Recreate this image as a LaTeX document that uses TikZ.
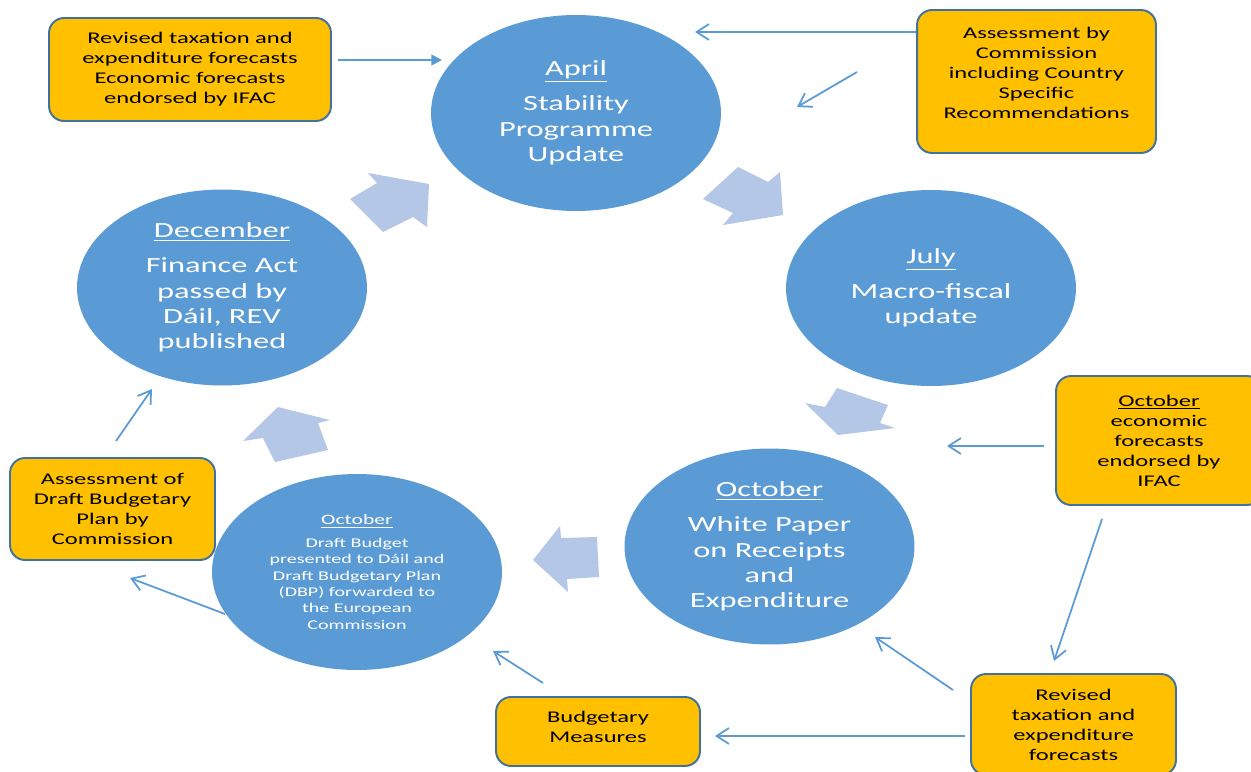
\documentclass[tikz,border=0pt]{standalone}
\usepackage{fontspec}
\setmainfont{Carlito}[FakeStretch=1.5]
\usepackage{tikz}
\usetikzlibrary{arrows.meta,shapes.geometric}
\definecolor{stageblue}{HTML}{5B9BD5}
\definecolor{flowblue}{HTML}{B4C7E7}
\definecolor{notegold}{HTML}{FFC000}
\definecolor{noteedge}{HTML}{41719C}

\begin{document}
\begin{tikzpicture}[x=0.02cm,y=-0.02cm,>={Straight Barb[length=7pt,width=9pt]},
  stage/.style={ellipse,fill=stageblue,text=white,minimum width=5.8cm,minimum height=3.92cm,inner sep=0pt,align=center,font=\fontsize{12.3}{14.5}\selectfont},
  note/.style={draw=noteedge,line width=1.1pt,fill=notegold,rounded corners=0.3cm,align=center,inner sep=0pt,font=\fontsize{9.3}{11.4}\selectfont},
  link/.style={->,stageblue,line width=1pt},
  turn/.style={fill=flowblue}]
\useasboundingbox (0,0) rectangle (1251,771);
\fill[white] (0,0) rectangle (1251,771);
\clip (0,0) rectangle (1251,771);

\node[stage] (april) at (576,113) {\underline{April}\\[5.4pt]Stability\\Programme\\Update};
\node[stage] (july) at (931,288) {\underline{July}\\[5.4pt]Macro-fiscal\\update};
\node[stage] (whitepaper) at (769.5,546.5) {\underline{October}\\[5.4pt]White Paper\\on Receipts\\and\\Expenditure};
\node[stage,font=\fontsize{7.6}{9.3}\selectfont] (budget) at (357,572) {{\fontsize{8.2}{9.3}\selectfont\underline{October}}\\[3.8pt]Draft Budget\\presented to Dáil and\\Draft Budgetary Plan\\(DBP) forwarded to\\the European\\Commission};
\node[stage] (december) at (222,287.5) {\underline{December}\\[5.4pt]Finance Act\\passed by\\Dáil, REV\\published};

\fill[turn] (350,199)--(377,183)--(368,173)--(429,184)--(427,227)--(413,217)--(383,232)--cycle;
\fill[turn] (703,199)--(738,167)--(768,182)--(780,172)--(783,215)--(723,225)--(733,213)--cycle;
\fill[turn] (805,403)--(825,407)--(837,388)--(888,405)--(880,423)--(895,428)--(838,435)--cycle;
\fill[turn] (533,560)--(560,526)--(561,538)--(597,537)--(599,577)--(567,579)--(568,592)--cycle;
\fill[turn] (243,441)--(278,407)--(330,420)--(318,423)--(328,450)--(275,462)--(263,438)--cycle;

\node[note,minimum width=5.64cm,minimum height=2.06cm] (revised) at (190,69.5) {Revised taxation and\\expenditure forecasts\\Economic forecasts\\endorsed by IFAC};
\node[note,minimum width=4.78cm,minimum height=2.86cm,text depth=0.34cm] (assess) at (1036.5,81.5) {Assessment by\\Commission\\including Country\\Specific\\Recommendations};
\node[note,minimum width=4.12cm,minimum height=2.58cm] (econ) at (1159,440.5) {\underline{October}\\economic\\forecasts\\endorsed by\\IFAC};
\node[note,minimum width=4.1cm,minimum height=2.02cm] (taxrev) at (1073.5,724.5) {Revised\\taxation and\\expenditure\\forecasts};
\node[note,minimum width=4.08cm,minimum height=1.38cm,text depth=0.2cm] (measures) at (598,731.5) {Budgetary\\Measures};
\node[note,minimum width=4.1cm,minimum height=2.04cm] (dbpreview) at (112.5,509) {Assessment of\\Draft Budgetary\\Plan by\\Commission};

\coordinate (p1) at (442,60); \coordinate (p2) at (695,32);
\coordinate (p3a) at (857,72); \coordinate (p3b) at (797,107);
\coordinate (p4) at (947,446);
\coordinate (p5a) at (1102,519); \coordinate (p5b) at (1054,661);
\coordinate (p6a) at (953,690); \coordinate (p6b) at (875,637);
\coordinate (p7) at (715,736);
\coordinate (p8a) at (543,683); \coordinate (p8b) at (493,651);
\coordinate (p9a) at (225,614); \coordinate (p9b) at (130,578);
\coordinate (p10a) at (116,441); \coordinate (p10b) at (152,389);

\draw[link,-{Triangle[length=6pt,width=6pt]},shorten <=0.12cm] (revised.east |- p1) -- (p1);
\draw[link] (assess.west |- p2) -- (p2);
\draw[link] (p3a) -- (p3b);
\draw[link,shorten <=0.22cm] (econ.west |- p4) -- (p4);
\draw[link] (p5a) -- (p5b);
\draw[link] (p6a) -- (p6b);
\draw[link,shorten <=0.1cm] (taxrev.west |- p7) -- (p7);
\draw[link] (p8a) -- (p8b);
\draw[link] (p9a) -- (p9b);
\draw[link] (p10a) -- (p10b);
\end{tikzpicture}
\end{document}
